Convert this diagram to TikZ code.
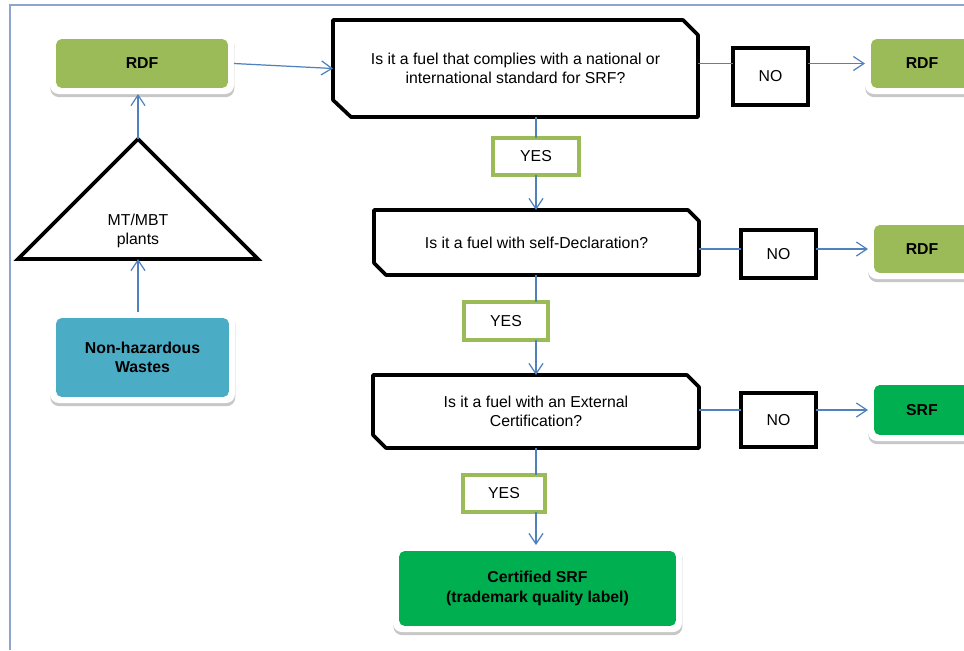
\documentclass[tikz,border=0pt]{standalone}
\usepackage{fontspec}
\setmainfont{Liberation Sans}
\usetikzlibrary{arrows.meta,calc,shadows}
\definecolor{rdfgreen}{HTML}{9BBB59}
\definecolor{nhwblue}{HTML}{4BACC6}
\definecolor{srfgreen}{HTML}{00B050}
\definecolor{connblue}{HTML}{4F81BD}
\definecolor{framecol}{HTML}{8FA6CC}
\begin{document}
\begin{tikzpicture}[x=0.02cm,y=-0.02cm,
  sz/.style 2 args={minimum width=#1*0.02cm, minimum height=#2*0.02cm},
  txt/.style={font=\fontsize{9}{11}\selectfont, align=center, inner sep=0pt, outer sep=0pt},
  box/.style={txt, font=\bfseries\fontsize{9}{11}\selectfont, rounded corners=5pt, fill=white,
    drop shadow={shadow xshift=0.2pt, shadow yshift=-1.8pt, fill=black, opacity=0.22}},
  boxfill/.style={path picture={\fill[#1, rounded corners=3pt]
    ([xshift=3.5pt,yshift=3.5pt]path picture bounding box.south west) rectangle
    ([xshift=-3.5pt,yshift=-3.5pt]path picture bounding box.north east);}},
  heavy/.style={draw=black, line width=2.1pt, line join=round},
  yesbox/.style={txt, draw=rdfgreen, line width=1.8pt, fill=white},
  nobox/.style={txt, draw=black, line width=1.9pt, fill=white},
  conn/.style={draw=connblue, line width=0.7pt},
  arr/.style={conn, -{Straight Barb[length=6pt,width=8pt]}}
]
\useasboundingbox (0,0) rectangle (964,650);
\clip (0,0) rectangle (964,650);
\draw[framecol, line width=1.1pt] (10,650) -- (10,5) -- (964,5);

% left column
\node[box, boxfill=rdfgreen, sz={184}{61}] (rdf0) at (142,63.5) {RDF};
\node[box, boxfill=nhwblue, sz={185}{91}] (nhw) at (142.5,357.5) {Non-hazardous\\Wastes};
\coordinate (tA) at (138,139);
\coordinate (tL) at (18,259);
\coordinate (tR) at (258,259);
\draw[heavy, line join=miter] (tA) -- (tL) -- (tR) -- cycle;
\node[txt] (mt) at (138,231) {MT/MBT\\plants};

% questions
\node[txt, sz={365}{97}] (q1) at (515.5,68.5) {Is it a fuel that complies with a national or\\international standard for SRF?};
\draw[heavy] (q1.north west) -- ($(q1.north east)+(-15,0)$) -- ($(q1.north east)+(0,15)$)
  -- (q1.south east) -- ($(q1.south west)+(18,0)$) -- ($(q1.south west)+(0,-17)$) -- cycle;
\node[txt, sz={325}{65}] (q2) at (536.5,242.5) {Is it a fuel with self-Declaration?};
\draw[heavy] (q2.north west) -- ($(q2.north east)+(-11,0)$) -- ($(q2.north east)+(0,11)$)
  -- (q2.south east) -- ($(q2.south west)+(12,0)$) -- ($(q2.south west)+(0,-12)$) -- cycle;
\node[txt, sz={326}{73}] (q3) at (536,411.5) {Is it a fuel with an External\\Certification?};
\draw[heavy] (q3.north west) -- ($(q3.north east)+(-12,0)$) -- ($(q3.north east)+(0,12)$)
  -- (q3.south east) -- ($(q3.south west)+(13,0)$) -- ($(q3.south west)+(0,-13)$) -- cycle;

% yes boxes
\node[yesbox, sz={86}{37}] (yes1) at (536,156.5) {YES};
\node[yesbox, sz={84}{38}] (yes2) at (506,321) {YES};
\node[yesbox, sz={82}{37}] (yes3) at (504,493.5) {YES};

% no boxes
\node[nobox, sz={75}{57}] (no1) at (770.5,76.5) {NO};
\node[nobox, sz={75}{48}] (no2) at (778.5,254) {NO};
\node[nobox, sz={75}{54}] (no3) at (778.5,420) {NO};

% right outcomes
\node[box, boxfill=rdfgreen, sz={114}{61}] (rdfA) at (922,63.5) {RDF};
\node[box, boxfill=rdfgreen, sz={108}{60}] (rdfB) at (922,249) {RDF};
\node[box, boxfill=srfgreen, sz={108}{62}] (srf) at (922,410) {SRF};
\node[box, boxfill=srfgreen, sz={289}{87}] (cert) at (537.5,588.5) {Certified SRF\\(trademark quality label)};

% connectors left
\draw[arr] (rdf0.east) -- (q1.west);
\draw[arr] (tA) -- (tA |- rdf0.south);
\draw[arr] (tA |- nhw.north) -- (tA |- tL);

% connectors right
\draw[conn] (q1.east |- rdfA) -- (no1.west |- rdfA);
\draw[arr] (no1.east |- rdfA) -- (rdfA.west);
\draw[conn] (q2.east |- rdfB) -- (no2.west |- rdfB);
\draw[arr] (no2.east |- rdfB) -- (rdfB.west);
\draw[conn] (q3.east |- srf) -- (no3.west |- srf);
\draw[arr] (no3.east |- srf) -- (srf.west);

% connectors vertical
\draw[conn] (yes1 |- q1.south) -- (yes1.north);
\draw[arr] (yes1.south) -- (yes1 |- q2.north);
\draw[conn] (yes1 |- q2.south) -- (yes1 |- yes2.north);
\draw[arr] (yes1 |- yes2.south) -- (yes1 |- q3.north);
\draw[conn] (yes1 |- q3.south) -- (yes1 |- yes3.north);
\draw[arr] (yes1 |- yes3.south) -- (yes1 |- cert.north);
\end{tikzpicture}
\end{document}
